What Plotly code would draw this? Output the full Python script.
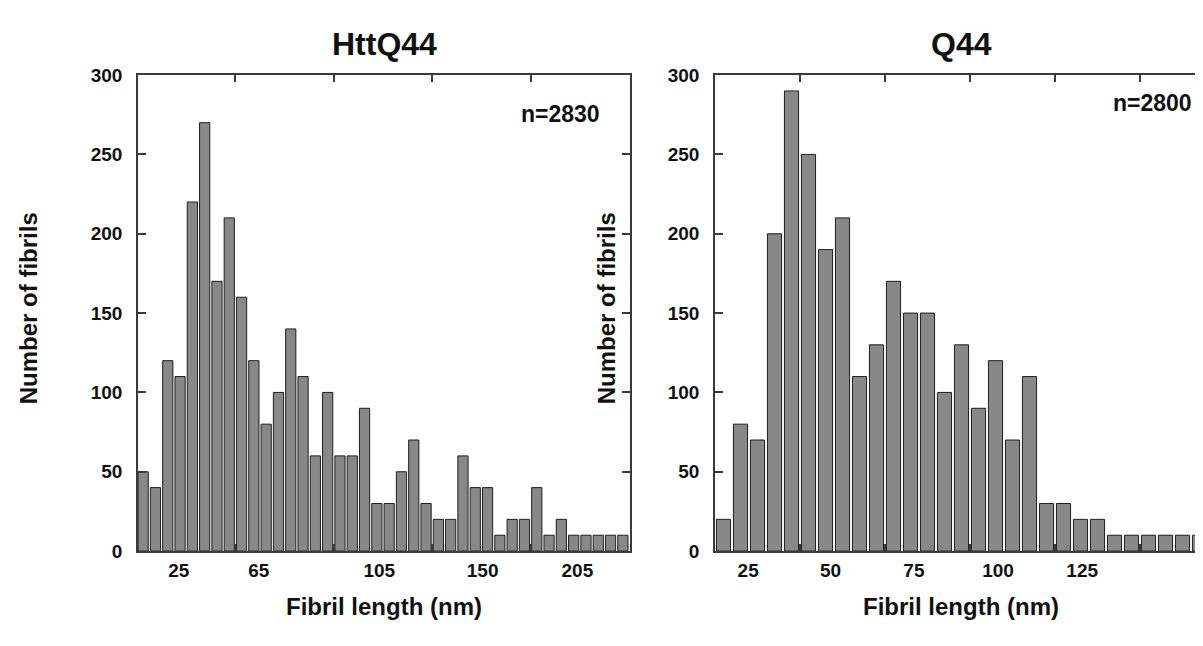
import plotly.graph_objects as go

# ---- data ----
httq44_counts = [50, 40, 120, 110, 220, 270, 170, 210, 160, 120,
                 80, 100, 140, 110, 60, 100, 60, 60, 90, 30,
                 30, 50, 70, 30, 20, 20, 60, 40, 40, 10,
                 20, 20, 40, 10, 20, 10, 10, 10, 10, 10]
q44_counts = [20, 80, 70, 200, 290, 250, 190, 210, 110, 130,
              170, 150, 150, 100, 130, 90, 120, 70, 110, 30,
              30, 20, 20, 10, 10, 10, 10, 10, 10]

httq44_ticklabels = ["25", "65", "105", "150", "205"]
httq44_labelpos = [2.9, 9.4, 19.2, 27.6, 35.3]
httq44_tickmarks = [7.5, 15.5, 23.5, 31.5]

q44_ticklabels = ["25", "50", "75", "100", "125"]
q44_labelpos = [1.45, 6.3, 11.2, 16.15, 21.1]
q44_tickmarks = [4.5, 9.5, 14.5, 19.5, 24.5]

y_ticks = [0, 50, 100, 150, 200, 250, 300]

FONT = "Liberation Sans"
AX = "#3a3a3a"
BAR = "#888888"
TXT = "#111111"

fig = go.Figure()
fig.add_trace(go.Bar(x=list(range(len(httq44_counts))), y=httq44_counts,
                     marker=dict(color=BAR, line=dict(color="#1e1e1e", width=1)),
                     xaxis="x", yaxis="y", showlegend=False))
fig.add_trace(go.Bar(x=list(range(len(q44_counts))), y=q44_counts,
                     marker=dict(color=BAR, line=dict(color="#1e1e1e", width=1)),
                     xaxis="x2", yaxis="y2", showlegend=False))
# invisible helpers so the label axes get drawn
fig.add_trace(go.Scatter(x=[httq44_labelpos[0]], y=[0], mode="markers", opacity=0,
                         hoverinfo="skip", showlegend=False, xaxis="x3", yaxis="y"))
fig.add_trace(go.Scatter(x=[q44_labelpos[0]], y=[0], mode="markers", opacity=0,
                         hoverinfo="skip", showlegend=False, xaxis="x4", yaxis="y2"))

W, H = 1203, 646
ytop, ybot = 59, 551
ydom = [1 - ybot / H, 1 - ytop / H]
dom1 = [130 / W, 622 / W]
dom2 = [707 / W, 1200 / W]
rng1 = [-0.42, 39.58]
rng2 = [-0.5, 28.5]

def mark_axis(dom, rng, marks, anchor):
    return dict(domain=dom, range=rng, tickmode="array", tickvals=marks,
                ticks="inside", ticklen=7, tickwidth=1.5, tickcolor=AX,
                showticklabels=False, showline=True, linecolor=AX, linewidth=1.5,
                mirror="ticks", showgrid=False, zeroline=False, anchor=anchor)

def label_axis(rng, labpos, labs, over, anchor):
    return dict(overlaying=over, anchor=anchor, side="bottom", range=rng,
                tickmode="array", tickvals=labpos, ticktext=labs, ticks="",
                showline=False, showgrid=False, zeroline=False, ticklabelstandoff=6,
                tickfont=dict(family=FONT, size=19, color=TXT, weight="bold"))

def yaxis_cfg(anchor):
    return dict(domain=ydom, range=[0, 300], tickmode="array", tickvals=y_ticks,
                ticks="inside", ticklen=8, tickwidth=1.5, tickcolor=AX,
                showline=True, linecolor=AX, linewidth=1.5, mirror="ticks",
                showgrid=False, zeroline=False, anchor=anchor, ticklabelstandoff=10,
                tickfont=dict(family=FONT, size=19, color=TXT, weight="bold"))

fig.update_layout(
    width=W, height=H, margin=dict(l=0, r=0, t=0, b=0),
    paper_bgcolor="white", plot_bgcolor="white", bargap=0.17,
    xaxis=mark_axis(dom1, rng1, httq44_tickmarks, "y"),
    yaxis=yaxis_cfg("x"),
    xaxis2=mark_axis(dom2, rng2, q44_tickmarks, "y2"),
    yaxis2=yaxis_cfg("x2"),
    xaxis3=label_axis(rng1, httq44_labelpos, httq44_ticklabels, "x", "y"),
    xaxis4=label_axis(rng2, q44_labelpos, q44_ticklabels, "x2", "y2"),
)

tfont = dict(family=FONT, size=32, color=TXT, weight="bold")
afont = dict(family=FONT, size=24, color=TXT, weight="bold")
nfont = dict(family=FONT, size=23, color=TXT, weight="bold")

ann = [
    dict(text="HttQ44", x=376 / W, y=1 - 27 / H, font=tfont),
    dict(text="Q44", x=953 / W, y=1 - 27 / H, font=tfont),
    dict(text="Fibril length (nm)", x=376 / W, y=1 - 608 / H, font=afont),
    dict(text="Fibril length (nm)", x=953 / W, y=1 - 608 / H, font=afont),
    dict(text="Number of fibrils", x=20 / W, y=1 - 300 / H, font=afont, textangle=-90),
    dict(text="Number of fibrils", x=598 / W, y=1 - 300 / H, font=afont, textangle=-90),
    dict(text="n=2830", x=594 / W, y=1 - 99 / H, font=nfont, xanchor="right"),
    dict(text="n=2800", x=1186 / W, y=1 - 88 / H, font=nfont, xanchor="right"),
]
for a in ann:
    a.setdefault("xanchor", "center")
    a.update(xref="paper", yref="paper", yanchor="middle", showarrow=False)
fig.update_layout(annotations=ann)

fig.write_html("out.html")
